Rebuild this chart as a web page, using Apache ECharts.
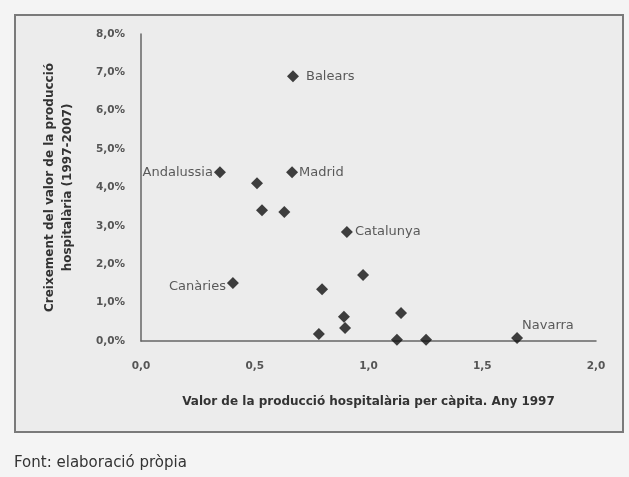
<!DOCTYPE html>
<html>
<head>
<meta charset="utf-8">
<script src="https://cdn.jsdelivr.net/npm/echarts@6/dist/echarts.min.js"></script>
<style>
html,body{margin:0;padding:0;background:#f4f4f4;}
#c{width:629px;height:477px;}
</style>
</head>
<body>
<div id="c"></div>
<script>
// Data
var regionNames = ['Balears','Andalussia','Madrid','','','','Catalunya','Canàries','','','','','','','','','Navarra'];
var xValues = [0.668,0.347,0.664,0.510,0.532,0.630,0.905,0.404,0.976,0.796,0.892,0.897,1.143,0.782,1.125,1.253,1.653];
var yValues = [6.90,4.40,4.40,4.11,3.41,3.36,2.84,1.51,1.72,1.35,0.63,0.34,0.73,0.18,0.03,0.03,0.08];
var labelSide = {'Balears':'right','Andalussia':'left','Madrid':'right','Catalunya':'right','Canàries':'left','Navarra':'right'};
var xTicks = [0,0.5,1,1.5,2];
var yTicks = [0,1,2,3,4,5,6,7,8];

var FONT = '"DejaVu Sans", sans-serif';
var data = xValues.map(function(x,i){
  var n = regionNames[i];
  var item = {value:[x,yValues[i]], name:n};
  if (n) {
    var lab = {show:true, position:labelSide[n], formatter:n, distance:1};
    if (n==='Balears') lab.distance=7;
    if (n==='Catalunya') lab.distance=2;
    if (n==='Canàries') lab.offset=[0,4];
    if (n==='Navarra') lab.offset=[-2,-12];
    item.label = lab;
  }
  return item;
});

var chart = echarts.init(document.getElementById('c'));
chart.setOption({
  backgroundColor:'#f4f4f4',
  animation:false,
  textStyle:{fontFamily:FONT},
  graphic:[
    {type:'rect', z:-10, shape:{x:15,y:15,width:608,height:417}, style:{fill:'#ececec', stroke:'#7a7a7a', lineWidth:2}},
    {type:'text', left:14, top:456, style:{text:'Font: elaboració pròpia', font:'15px '+FONT, fill:'#333'}}
  ],
  grid:{left:141, right:33, top:34, bottom:136},
  xAxis:{
    type:'value', min:0, max:2, interval:0.5,
    axisLine:{show:true, lineStyle:{color:'#666', width:1.5}},
    axisTick:{show:false},
    splitLine:{show:false},
    axisLabel:{color:'#555', fontSize:10.5, fontWeight:'bold', margin:20,
      formatter:function(v){return v.toFixed(1).replace('.',',');}},
    name:'Valor de la producció hospitalària per càpita. Any 1997',
    nameLocation:'middle', nameGap:55,
    nameTextStyle:{color:'#333', fontSize:12, fontWeight:'bold'}
  },
  yAxis:{
    type:'value', min:0, max:8, interval:1,
    axisLine:{show:true, lineStyle:{color:'#666', width:1.5}},
    axisTick:{show:false},
    splitLine:{show:false},
    axisLabel:{color:'#555', fontSize:10.5, fontWeight:'bold', margin:16,
      formatter:function(v){return v.toFixed(1).replace('.',',')+'%';}},
    name:'Creixement del valor de la producció\nhospitalària (1997-2007)',
    nameLocation:'middle', nameGap:64, nameRotate:90,
    nameTextStyle:{color:'#333', fontSize:12, fontWeight:'bold', lineHeight:18}
  },
  series:[{
    type:'scatter',
    symbol:'diamond',
    symbolSize:12,
    itemStyle:{color:'#111'},
    label:{color:'#333', fontSize:13},
    data:data
  }]
});
</script>
</body>
</html>
